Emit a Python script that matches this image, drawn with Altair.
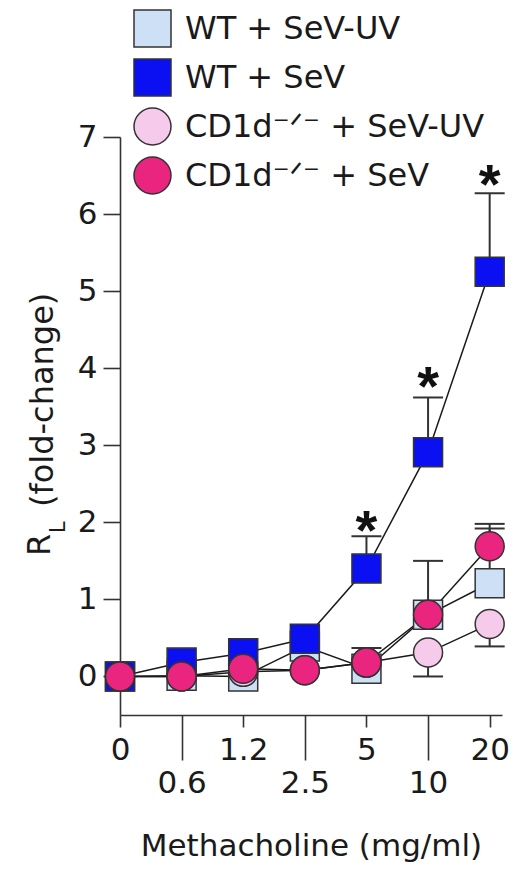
import altair as alt
import pandas as pd

FONT = "DejaVu Sans, Liberation Sans, Arial, sans-serif"
STAR_FONT = "Liberation Sans, Arial, sans-serif"

doses = ["0", "0.6", "1.2", "2.5", "5", "10", "20"]
series = ["WT + SeV-UV", "WT + SeV", "CD1d⁻ᐟ⁻ + SeV-UV", "CD1d⁻ᐟ⁻ + SeV"]
colors = ["#cde0f6", "#0b10f2", "#f6caea", "#ea2580"]
shapes = ["square", "square", "circle", "circle"]

wt_uv = [0.0, 0.01, 0.0, 0.39, 0.10, 0.80, 1.21]
wt_sev = [0.0, 0.18, 0.30, 0.49, 1.40, 2.91, 5.25]
ko_uv = [0.0, 0.0, 0.06, 0.08, 0.18, 0.31, 0.68]
ko_sev = [0.0, 0.0, 0.10, 0.08, 0.18, 0.80, 1.69]

wt_uv_sem = [0, 0, 0, 0, 0.27, 0.70, 0.71]
wt_sev_sem = [0, 0.05, 0.05, 0.10, 0.42, 0.71, 1.02]
ko_uv_sem = [0, 0, 0, 0, 0, 0.31, 0.29]
ko_sev_sem = [0, 0, 0, 0, 0.05, 0.10, 0.29]
err_dir = [1, 1, -1, 1]

star_idx = [4, 5, 6]
star_y = [2.06, 3.92, 6.55]

values = [wt_uv, wt_sev, ko_uv, ko_sev]
sems = [wt_uv_sem, wt_sev_sem, ko_uv_sem, ko_sev_sem]

rows = []
for k, name in enumerate(series):
    for i in range(len(doses)):
        v = values[k][i]
        s = sems[k][i]
        rows.append({"series": name, "order": k, "idx": i, "value": v,
                     "sem": s, "err_end": v + err_dir[k] * s})
df = pd.DataFrame(rows)
err_df = df[df["sem"] > 0]
star_df = pd.DataFrame({"idx": star_idx, "y": star_y, "t": ["*"] * len(star_idx)})

label_arr = "[" + ",".join("'" + d + "'" for d in doses) + "]"
label_expr = f"{label_arr}[datum.value]"

x_scale = alt.Scale(domain=[0, 6.2], nice=False, zero=False)
x_enc = alt.X("idx:Q", scale=x_scale,
              axis=alt.Axis(values=list(range(len(doses))), labelExpr=label_expr,
                            tickSize={"condition": {"test": "datum.value % 2 == 1", "value": 45}, "value": 12},
                            labelPadding=8, labelFontSize=31,
                            labelOverlap=False, labelFlush=False, labelBaseline="top",
                            title="Methacholine (mg/ml)", titleFontSize=31,
                            titleFontWeight="normal", titlePadding=33, grid=False))
y_scale = alt.Scale(domain=[-0.5, 7], nice=False, zero=False)
y_enc = alt.Y("value:Q", scale=y_scale,
              axis=alt.Axis(values=list(range(8)), format="d", tickSize=17, labelPadding=6,
                            labelFontSize=31, title=None, grid=False))

legend = alt.Legend(orient="none", legendX=13, legendY=-128, title=None,
                    symbolSize=1369, labelFontSize=32, labelFont=FONT,
                    rowPadding=6, symbolStrokeColor="#333", symbolStrokeWidth=1.5,
                    labelOffset=13, labelLimit=0, padding=0, symbolOpacity=1,
                    labelColor="#1a1a1a")

base = alt.Chart(df)

rules = alt.Chart(err_df).mark_rule(color="#333", strokeWidth=2).encode(
    x=x_enc, y=y_enc, y2="err_end:Q")
caps = alt.Chart(err_df).mark_tick(orient="horizontal", size=30, thickness=2,
                                   color="#333", opacity=1).encode(
    x="idx:Q", y=alt.Y("err_end:Q", scale=y_scale))
lines = base.mark_line(color="#1a1a1a", strokeWidth=1.5).encode(
    x="idx:Q", y="value:Q", detail="series:N", order="idx:Q")
points = base.mark_point(filled=True, strokeWidth=1.5, opacity=1, size=841).encode(
    x="idx:Q", y="value:Q",
    color=alt.Color("series:N", scale=alt.Scale(domain=series, range=colors), legend=legend),
    shape=alt.Shape("series:N", scale=alt.Scale(domain=series, range=shapes), legend=legend),
    stroke=alt.Stroke("series:N", scale=alt.Scale(domain=series, range=["#333"] * 4), legend=legend),
    order="order:Q")
stars = alt.Chart(star_df).mark_text(fontSize=56, fontWeight="bold", font=STAR_FONT,
                                     color="#111", baseline="middle", dy=14).encode(
    x="idx:Q", y=alt.Y("y:Q", scale=y_scale), text="t:N")

title_df = pd.DataFrame({"t": ["x"]})
t_r = alt.Chart(title_df).mark_text(text="R", angle=270, align="left", baseline="alphabetic",
                                    fontSize=32, font=FONT, color="#1a1a1a").encode(
    x=alt.value(-70), y=alt.value(419))
t_l = alt.Chart(title_df).mark_text(text="L", angle=270, align="left", baseline="alphabetic",
                                    fontSize=21, font=FONT, color="#1a1a1a").encode(
    x=alt.value(-55), y=alt.value(396))
t_fc = alt.Chart(title_df).mark_text(text="(fold-change)", angle=270, align="left",
                                     baseline="alphabetic", fontSize=32, font=FONT,
                                     color="#1a1a1a").encode(
    x=alt.value(-67), y=alt.value(370))

chart = alt.layer(rules, caps, lines, points, stars, t_r, t_l, t_fc).properties(
    width=382, height=578,
    autosize=alt.AutoSizeParams(type="none"),
    padding={"left": 112, "top": 129, "right": 10, "bottom": 150},
).configure_view(stroke=None).configure_axis(
    labelFont=FONT, titleFont=FONT, labelColor="#1a1a1a", titleColor="#1a1a1a",
    domainColor="#333", tickColor="#333", domainWidth=1.6, tickWidth=1.6,
).configure_legend(labelFont=FONT)

chart.save("out.html", embed_options={"renderer": "svg", "actions": False})
